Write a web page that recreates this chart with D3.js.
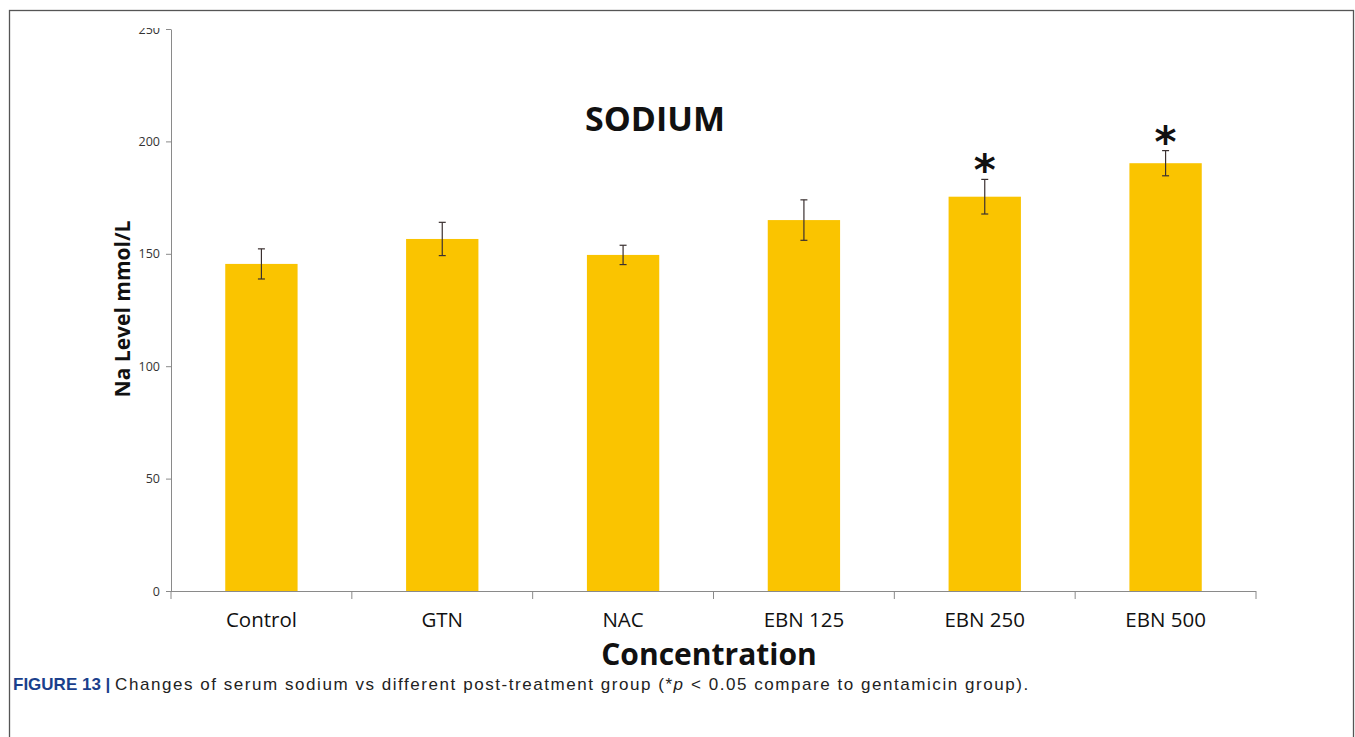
<!DOCTYPE html>
<meta charset="utf-8">
<script src="https://d3js.org/d3.v7.min.js"></script>
<style>
  body { margin: 0; background: #fff; }
</style>
<div id="chart"></div>
<script>
// data
const categories = ["Control", "GTN", "NAC", "EBN 125", "EBN 250", "EBN 500"];
const means = [145.5, 156.6, 149.5, 165.0, 175.4, 190.3];
const errors = [6.7, 7.4, 4.3, 9.0, 7.7, 5.6];
const significant = [false, false, false, false, true, true];
const yTicks = [0, 50, 100, 150, 200, 250];

const W = 1355, H = 737;
const plot = {left: 171, right: 1256, top: 29, bottom: 591};

const svg = d3.select("#chart").append("svg")
    .attr("width", W).attr("height", H);

// frame around the figure
svg.append("rect")
    .attr("x", 9.5).attr("y", 10.5)
    .attr("width", 1344).attr("height", 760)
    .attr("fill", "none").attr("stroke", "#555").attr("stroke-width", 1.3);

const x = d3.scaleBand()
    .domain(categories)
    .range([plot.left, plot.right])
    .paddingInner(0.6).paddingOuter(0.3);

const y = d3.scaleLinear()
    .domain([0, 250])
    .range([plot.bottom, plot.top]);

const data = categories.map((c, i) => ({cat: c, v: means[i], e: errors[i], sig: significant[i]}));

// clip the top tick label like the cropped original (group coords)
svg.append("clipPath").attr("id", "yclip")
  .append("rect").attr("x", -200).attr("y", 28).attr("width", 400).attr("height", 700);

// y axis
const yAxis = svg.append("g")
    .attr("transform", `translate(${plot.left},0)`)
    .attr("clip-path", "url(#yclip)")
    .call(d3.axisLeft(y).tickValues(yTicks).tickSize(5).tickPadding(6).tickSizeOuter(0));
yAxis.select(".domain").attr("stroke", "#8a8a8a");
yAxis.selectAll(".tick line").attr("stroke", "#8a8a8a");
yAxis.selectAll(".tick text")
    .attr("font-family", "'Open Sans', sans-serif")
    .attr("font-size", 12.5).attr("fill", "#333");

// bars
svg.append("g").selectAll("rect")
  .data(data)
  .join("rect")
    .attr("x", d => x(d.cat))
    .attr("y", d => y(d.v))
    .attr("width", x.bandwidth())
    .attr("height", d => y(0) - y(d.v))
    .attr("fill", "#FAC400");

// x axis with ticks on category boundaries
const boundaries = d3.range(categories.length + 1).map(i => plot.left + i * (plot.right - plot.left) / categories.length);
const xg = svg.append("g");
xg.append("line")
    .attr("x1", plot.left).attr("x2", plot.right)
    .attr("y1", y(0) + 0.5).attr("y2", y(0) + 0.5)
    .attr("stroke", "#8a8a8a");
xg.selectAll("line.tk")
  .data(boundaries)
  .join("line")
    .attr("class", "tk")
    .attr("x1", d => d).attr("x2", d => d)
    .attr("y1", y(0)).attr("y2", y(0) + 8)
    .attr("stroke", "#8a8a8a");
xg.selectAll("text")
  .data(categories)
  .join("text")
    .attr("x", d => x(d) + x.bandwidth() / 2)
    .attr("y", y(0) + 36)
    .attr("text-anchor", "middle")
    .attr("font-family", "'Open Sans', sans-serif")
    .attr("font-size", 20.5)
    .attr("fill", "#111")
    .text(d => d);

// error bars
const eb = svg.append("g").attr("stroke", "#3a3030").attr("stroke-width", 1.2);
data.forEach(d => {
  const cx = x(d.cat) + x.bandwidth() / 2;
  eb.append("line").attr("x1", cx).attr("x2", cx).attr("y1", y(d.v + d.e)).attr("y2", y(d.v - d.e));
  eb.append("line").attr("x1", cx - 3.5).attr("x2", cx + 3.5).attr("y1", y(d.v + d.e)).attr("y2", y(d.v + d.e));
  eb.append("line").attr("x1", cx - 3.5).attr("x2", cx + 3.5).attr("y1", y(d.v - d.e)).attr("y2", y(d.v - d.e));
});

// significance asterisks
svg.append("g").selectAll("text")
  .data(data.filter(d => d.sig))
  .join("text")
    .attr("x", d => x(d.cat) + x.bandwidth() / 2)
    .attr("y", d => y(d.v + d.e) + 6)
    .attr("text-anchor", "middle")
    .attr("font-family", "'DejaVu Sans', sans-serif")
    .attr("font-weight", "bold")
    .attr("font-size", 42)
    .attr("fill", "#111")
    .text("*");

// title
svg.append("text")
    .attr("x", 655).attr("y", 131)
    .attr("text-anchor", "middle")
    .attr("font-family", "'Open Sans', sans-serif")
    .attr("font-weight", "bold")
    .attr("font-size", 34)
    .attr("fill", "#111")
    .text("SODIUM");

// axis titles
svg.append("text")
    .attr("transform", "translate(130,309) rotate(-90)")
    .attr("text-anchor", "middle")
    .attr("font-family", "'Open Sans', sans-serif")
    .attr("font-weight", "bold")
    .attr("font-size", 21)
    .attr("fill", "#111")
    .text("Na Level mmol/L");

svg.append("text")
    .attr("x", 709).attr("y", 665)
    .attr("text-anchor", "middle")
    .attr("font-family", "'Open Sans', sans-serif")
    .attr("font-weight", "bold")
    .attr("font-size", 30)
    .attr("fill", "#111")
    .text("Concentration");

// caption
const cap = svg.append("text")
    .attr("x", 13).attr("y", 690)
    .attr("font-family", "'Liberation Sans', Arial, sans-serif")
    .attr("font-size", 17)
    .attr("fill", "#222");
cap.append("tspan").attr("font-weight", "bold").attr("fill", "#1a3f8c").text("FIGURE 13 | ");
const rest = cap.append("tspan").attr("letter-spacing", "1.55px");
rest.append("tspan").text("Changes of serum sodium vs different post-treatment group (*");
rest.append("tspan").attr("font-style", "italic").text("p");
rest.append("tspan").text(" < 0.05 compare to gentamicin group).");
</script>
